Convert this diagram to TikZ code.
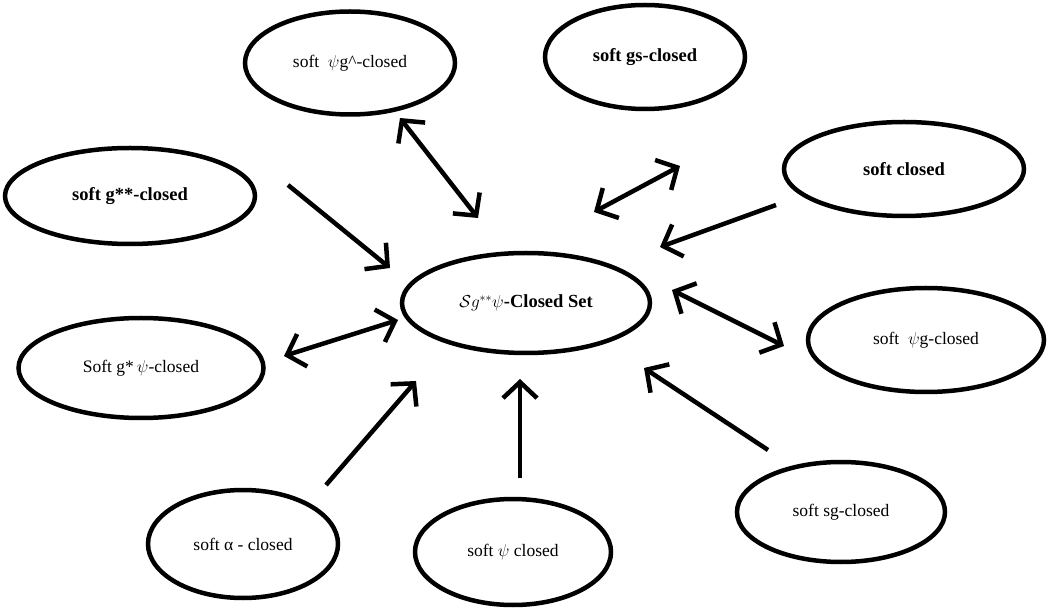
\documentclass[tikz,border=0pt]{standalone}
\usepackage{fontspec}
\setmainfont{Liberation Serif}
\usetikzlibrary{shapes.geometric,arrows.meta}
\tikzset{
  oval/.style={draw, ellipse, line width=4.5pt, inner sep=0pt, font=\fontsize{17.5}{20}\selectfont},
  boldoval/.style={oval, font=\fontsize{18.5}{21}\selectfont\bfseries},
  arr/.style={line width=4.5pt, -{Straight Barb[length=16pt,width=34pt]}},
  darr/.style={line width=4.5pt, {Straight Barb[length=16pt,width=34pt]}-{Straight Barb[length=16pt,width=34pt]}}
}
\begin{document}
\begin{tikzpicture}[x=1pt,y=-1pt]
\useasboundingbox[fill=white] (0,0) rectangle (1047,609);
% nodes
\node[oval, minimum width=210pt, minimum height=103pt] (psig) at (350,63) {soft~~$\psi$g\^{}-closed};
\node[boldoval, minimum width=200pt, minimum height=104pt] (gs) at (645,57) {soft gs-closed};
\node[boldoval, minimum width=240pt, minimum height=94pt] (sc) at (904,169) {soft closed};
\node[boldoval, minimum width=250pt, minimum height=96pt] (gss) at (130,196) {soft g**-closed};
\node[boldoval, minimum width=248pt, minimum height=100pt] (c) at (526,303) {$\mathcal{S}g^{**}\psi$-Closed Set};
\node[oval, minimum width=245pt, minimum height=100pt] (gsp) at (141,368) {Soft g*\,$\psi$-closed};
\node[oval, minimum width=236pt, minimum height=104pt] (pg) at (926,340) {soft~~$\psi$g-closed};
\node[oval, minimum width=190pt, minimum height=108pt] (al) at (243,544) {soft α - closed};
\node[oval, minimum width=196pt, minimum height=106pt] (ps) at (513,552) {soft $\psi$ closed};
\node[oval, minimum width=208pt, minimum height=100pt] (sg) at (841,512) {soft sg-closed};
% arrow ends
\coordinate (a1s) at (400,118); \coordinate (a1e) at (478,218);
\coordinate (a2s) at (680,166); \coordinate (a2e) at (594,212);
\coordinate (a3s) at (776,205); \coordinate (a3e) at (660,247);
\coordinate (a4s) at (288,185); \coordinate (a4e) at (390,268);
\coordinate (a5s) at (672,290); \coordinate (a5e) at (784,346);
\coordinate (a6s) at (284,356); \coordinate (a6e) at (398,320);
\coordinate (a7s) at (326,485); \coordinate (a7e) at (416,381);
\coordinate (a8s) at (520,478); \coordinate (a8e) at (520,379);
\coordinate (a9s) at (768,450); \coordinate (a9e) at (644,368);
% connectors
\draw[darr] (a1s) -- (a1e);
\draw[darr] (a2s) -- (a2e);
\draw[arr] (a3s) -- (a3e);
\draw[arr] (a4s) -- (a4e);
\draw[darr] (a5s) -- (a5e);
\draw[darr] (a6s) -- (a6e);
\draw[arr] (a7s) -- (a7e);
\draw[arr] (a8s) -- (a8e);
\draw[arr] (a9s) -- (a9e);
\end{tikzpicture}
\end{document}
